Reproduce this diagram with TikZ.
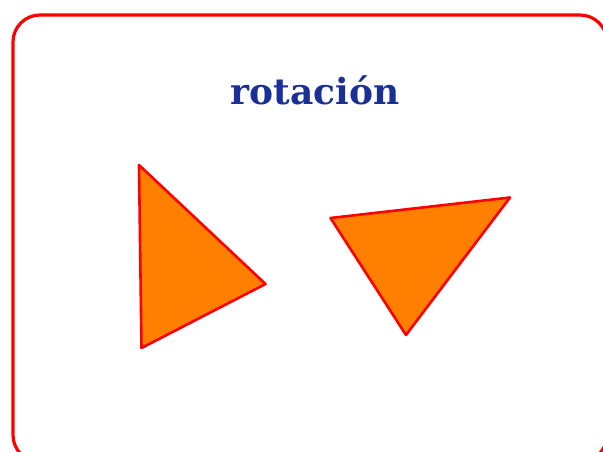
\documentclass[tikz,border=0pt]{standalone}
\usepackage{fontspec}
\newfontfamily\titlefont{DejaVu Serif}
\definecolor{tri}{RGB}{255,128,0}
\definecolor{titleblue}{RGB}{26,48,150}
\begin{document}
\begin{tikzpicture}[x=1pt,y=-1pt,
  triangle/.style={fill=tri,draw=red,line width=2.6pt,line join=round},
  frame/.style={draw=red,line width=3.2pt,rounded corners=27pt}]
\useasboundingbox (0,0) rectangle (603,452);
\draw[frame] (13,15) rectangle (607,462);
\node[text=titleblue,font=\titlefont\bfseries\fontsize{36}{42}\selectfont,anchor=base,inner sep=0pt] (title) at (315,105) {rotación};
\coordinate (a1) at (139,165);
\coordinate (a2) at (265.5,284);
\coordinate (a3) at (141.5,348);
\draw[triangle] (a1) -- (a2) -- (a3) -- cycle;
\coordinate (b1) at (330.5,218);
\coordinate (b2) at (510,197.5);
\coordinate (b3) at (406,335);
\draw[triangle] (b1) -- (b2) -- (b3) -- cycle;
\end{tikzpicture}
\end{document}
